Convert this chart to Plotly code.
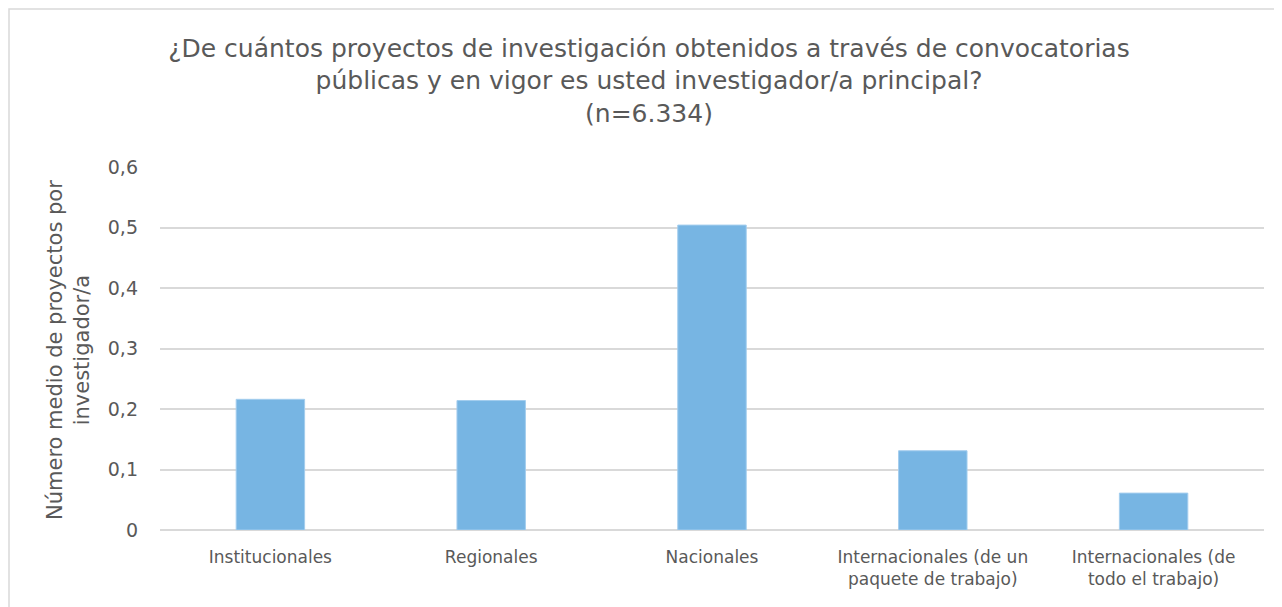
import plotly.graph_objects as go

# Data
categories = [
    "Institucionales",
    "Regionales",
    "Nacionales",
    "Internacionales (de un<br>paquete de trabajo)",
    "Internacionales (de<br>todo el trabajo)",
]
mean_projects = [0.216, 0.214, 0.504, 0.131, 0.061]
y_ticks = [0, 0.1, 0.2, 0.3, 0.4, 0.5, 0.6]

title_text = ("¿De cuántos proyectos de investigación obtenidos a través de convocatorias<br>"
              "públicas y en vigor es usted investigador/a principal?<br>(n=6.334)")
y_title = "Número medio de proyectos por<br>investigador/a"

FONT = "'DejaVu Sans', sans-serif"
GREY_TEXT = "#595959"

# the page body adds an 8px offset, so margins are set in div coordinates
L, R, T, B = 152, 26, 159, 85
PLOT_W = 1282 - L - R
PLOT_H = 607 - T - B

fig = go.Figure()
fig.add_trace(go.Bar(
    x=categories,
    y=mean_projects,
    marker=dict(color="#77B5E3", line=dict(color="#A3CDEE", width=1)),
    hoverinfo="x+y",
))

fig.update_layout(
    width=1282,
    height=607,
    margin=dict(l=L, r=R, t=T, b=B),
    paper_bgcolor="white",
    plot_bgcolor="white",
    separators=",.",
    showlegend=False,
    bargap=0.69,
    font=dict(family=FONT, color=GREY_TEXT),
    title=dict(
        text=title_text,
        x=0.5, xanchor="center",
        y=0.92, yanchor="top",
        font=dict(size=25, color=GREY_TEXT),
    ),
)

fig.update_yaxes(
    range=[0, 0.6],
    tickvals=y_ticks,
    tickformat=".1~f",
    tickfont=dict(size=19, color=GREY_TEXT),
    ticklabelstandoff=21,
    showgrid=True,
    gridcolor="#D9D9D9",
    gridwidth=1.5,
    zeroline=True,
    zerolinecolor="#D9D9D9",
    zerolinewidth=2,
    showline=False,
)
fig.update_xaxes(
    tickfont=dict(size=17, color=GREY_TEXT),
    ticklabelstandoff=15,
    showline=False,
    ticks="",
)

# y-axis title placed like the original
fig.add_annotation(
    text=y_title,
    xref="paper", yref="paper",
    x=(60 - L) / PLOT_W, y=(T + PLOT_H - 342) / PLOT_H,
    xanchor="center", yanchor="middle",
    textangle=-90,
    showarrow=False,
    font=dict(size=21, color=GREY_TEXT),
)

# light chart frame
fig.add_shape(
    type="rect",
    xref="paper", yref="paper",
    x0=(1 - L) / PLOT_W, x1=(1300 - L) / PLOT_W,
    y0=(T + PLOT_H - 620) / PLOT_H, y1=(T + PLOT_H - 1) / PLOT_H,
    line=dict(color="#D9D9D9", width=1.5),
    layer="below",
)

fig.write_html("out.html")
